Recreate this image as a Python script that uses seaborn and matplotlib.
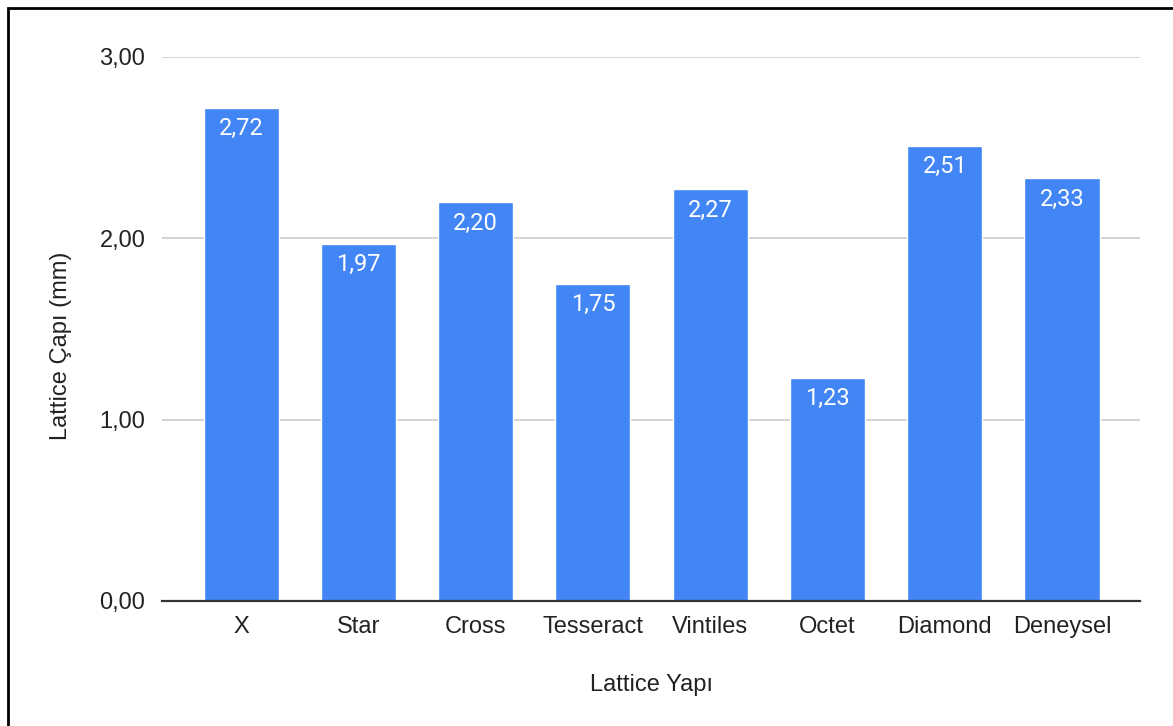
import matplotlib
matplotlib.use("Agg")
import matplotlib.pyplot as plt
import seaborn as sns
import pandas as pd
from matplotlib.patches import Rectangle

categories = ["X", "Star", "Cross", "Tesseract", "Vintiles", "Octet", "Diamond", "Deneysel"]
values = [2.72, 1.97, 2.20, 1.75, 2.27, 1.23, 2.51, 2.33]
yticks = [0.0, 1.0, 2.0, 3.0]
ytick_labels = ["0,00", "1,00", "2,00", "3,00"]

df = pd.DataFrame({"cat": categories, "val": values})

sns.set_theme(style="white")
plt.rcParams['font.family'] = ['Liberation Sans', 'DejaVu Sans']

FS = 17

fig = plt.figure(figsize=(11.73, 7.26), dpi=100)
ax = fig.add_axes([162/1173, 125/726, (1140-162)/1173, (601-57)/726])

sns.barplot(data=df, x="cat", y="val", color="#4285F4", width=0.64, ax=ax,
            saturation=1, zorder=3)

ax.set_xlim(-0.675, 7.665)
ax.set_ylim(0, 3.0)
ax.set_yticks(yticks)
ax.set_yticklabels(ytick_labels)
ax.grid(axis="y", color="#cccccc", linewidth=1.2, zorder=0)
ax.set_axisbelow(True)
for s in ["top", "right", "left"]:
    ax.spines[s].set_visible(False)
ax.spines["bottom"].set_color("#333333")
ax.spines["bottom"].set_linewidth(1.6)
ax.spines["bottom"].set_zorder(5)
ax.tick_params(axis="both", length=0, labelsize=FS, colors="#222222")
ax.tick_params(axis="x", pad=11)
ax.tick_params(axis="y", pad=12)

ax.set_xlabel("Lattice Yapı", fontsize=FS, color="#222222", labelpad=26)
ax.set_ylabel("Lattice Çapı (mm)", fontsize=FS, color="#222222", labelpad=20)
ax.yaxis.label.set_y(0.47)

for i, v in enumerate(values):
    ax.annotate(f"{v:.2f}".replace(".", ","), (i, v), xytext=(0, -21),
                textcoords="offset pixels", ha="center", va="center",
                color="white", fontsize=FS, family=["Roboto", "DejaVu Sans"], zorder=6)

fig.patches.append(Rectangle((8/1173, -0.1), 1.2, (726-8)/726 + 0.1,
                             transform=fig.transFigure, fill=False,
                             edgecolor="black", linewidth=2, figure=fig))

fig.savefig("out.png", dpi=100)
